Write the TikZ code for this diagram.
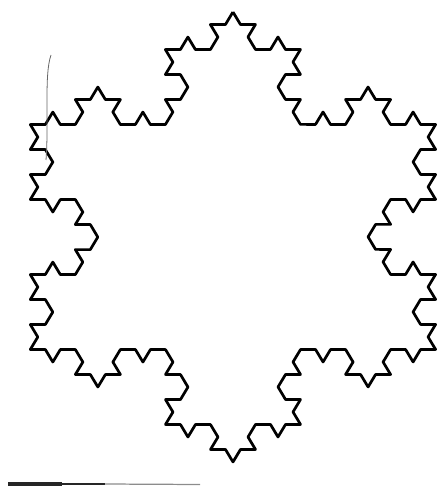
\documentclass[tikz,border=0pt]{standalone}
\usepackage{tikz}
\usetikzlibrary{decorations.fractals}

\begin{document}
\begin{tikzpicture}[x=0.02cm,y=-0.02cm,
  flake/.style={line width=1.5pt,line join=round,black,
    decoration={Koch snowflake}},
  scanmark/.style={line width=#1,black!85}]
  \useasboundingbox (0,0) rectangle (440,486);

  \begin{scope}[transform canvas={xscale=1.04}]
    \coordinate (top) at (224,12);
    \coordinate (right) at (418.86,349.5);
    \coordinate (left) at (29.14,349.5);
    \draw[flake] decorate{decorate{decorate{(top) -- (right) -- (left) -- cycle}}};
  \end{scope}

  \coordinate (barA) at (8,484);
  \coordinate (barB) at (62,484);
  \coordinate (barC) at (105,484);
  \coordinate (barD) at (200,484.5);
  \draw[scanmark=2.3pt] (barA) -- (barB);
  \draw[scanmark=1.4pt] (barB) -- (barC);
  \draw[line width=0.7pt,black!45] (barC) -- (barD);

  \coordinate (curveA) at (51,55);
  \coordinate (curveB) at (46,160);
  \draw[line width=0.45pt,black!60] (curveA) .. controls (44,75) and (49,120) .. (curveB);
\end{tikzpicture}
\end{document}
